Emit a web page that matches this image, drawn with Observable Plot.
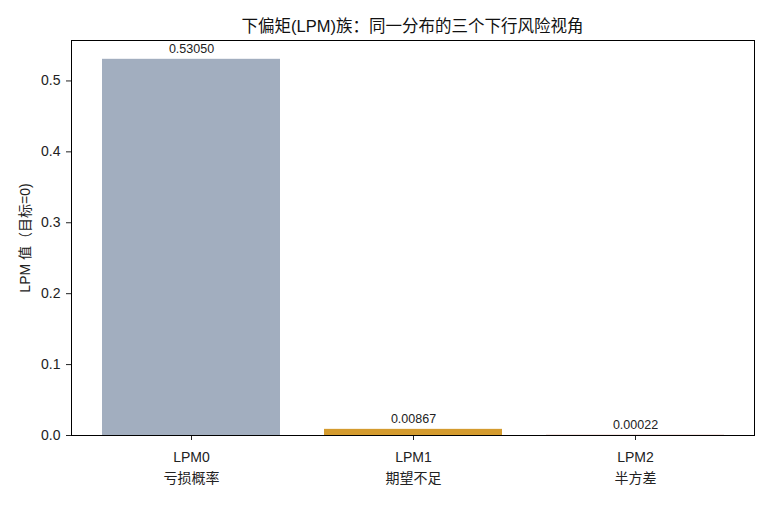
<!DOCTYPE html>
<html>
<head>
<meta charset="utf-8">
<script src="https://cdn.jsdelivr.net/npm/d3@7"></script>
<script src="https://cdn.jsdelivr.net/npm/@observablehq/plot@0.6"></script>
<style>
  html, body { margin: 0; padding: 0; background: #fff; }
  body { width: 770px; height: 505px; overflow: hidden; font-family: "Liberation Sans", "Noto Sans CJK SC", sans-serif; }
  #title { height: 36px; width: 770px; position: relative; }
  #title span { position: absolute; left: 412.5px; top: 25px; transform: translate(-50%, -50%); font-size: 16.5px; color: #111; white-space: nowrap; }
  #chart svg { display: block; }
</style>
</head>
<body>
<div id="title"><span>下偏矩(LPM)族：同一分布的三个下行风险视角</span></div>
<div id="chart"></div>
<script>
const names = ["LPM0", "LPM1", "LPM2"];
const descriptions = ["亏损概率", "期望不足", "半方差"];
const values = [0.53050, 0.00867, 0.00022];
const colors = ["#a2aebf", "#d49b2e", "#b85c4f"];
const yTicks = [0, 0.1, 0.2, 0.3, 0.4, 0.5];

const data = names.map((n, i) => ({name: n, desc: descriptions[i], value: values[i], color: colors[i]}));
const descOf = Object.fromEntries(names.map((n, i) => [n, descriptions[i]]));

const fontFamily = '"Liberation Sans", "Noto Sans CJK SC", sans-serif';

const chart = Plot.plot({
  width: 770,
  height: 469,
  marginLeft: 71,
  marginRight: 16,
  marginTop: 4,
  marginBottom: 70,
  style: {fontFamily, fontSize: "14px", color: "#222", background: "#fff"},
  x: {domain: names, paddingInner: 0.2, paddingOuter: 0.138, label: null},
  y: {domain: [0, 0.557025], label: null},
  marks: [
    Plot.barY(data, {x: "name", y: "value", fill: "color"}),
    Plot.text(data, {x: "name", y: "value", text: d => d.value.toFixed(5), lineAnchor: "bottom", dy: -6, fontSize: 12.5, fill: "#222"}),
    Plot.axisY({ticks: yTicks, tickFormat: d => d.toFixed(1), tickSize: 5, tickPadding: 6, fontSize: 14, label: null}),
    Plot.axisX({tickFormat: d => `${d}\n${descOf[d]}`, tickSize: 5, tickPadding: 7, fontSize: 14, lineHeight: 1.5, label: null}),
    Plot.frame({stroke: "#000", strokeWidth: 1}),
    Plot.text(["LPM 值（目标=0)"], {frameAnchor: "left", textAnchor: "middle", dx: -46, rotate: -90, fontSize: 14, fill: "#222", text: d => d})
  ]
});
document.getElementById("chart").appendChild(chart);
</script>
</body>
</html>
